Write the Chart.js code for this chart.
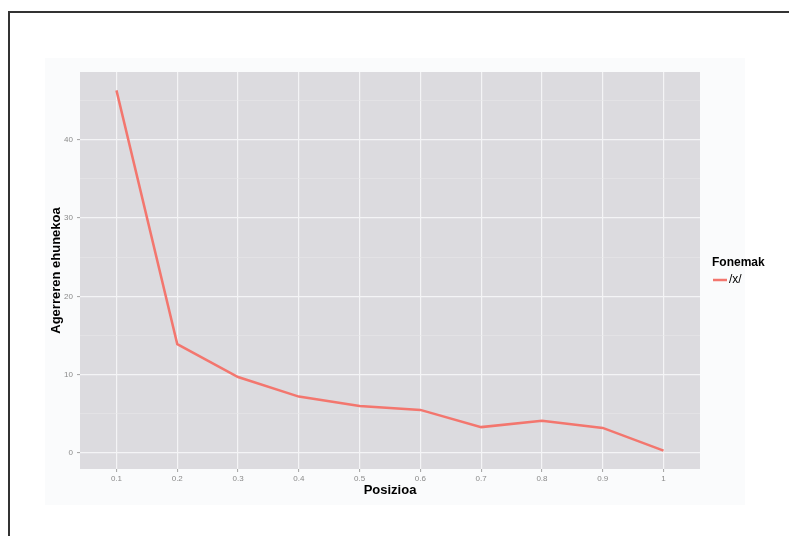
<!DOCTYPE html>
<html>
<head>
<meta charset="utf-8">
<script src="https://cdn.jsdelivr.net/npm/chart.js@4.4.1/dist/chart.umd.min.js"></script>
<style>
  html, body { margin: 0; padding: 0; background: #ffffff; }
  #wrap { position: relative; width: 789px; height: 536px; }
</style>
</head>
<body>
<div id="wrap"><canvas id="chart" width="789" height="536"></canvas></div>
<script>
// Datuak
const posizioak = [0.1, 0.2, 0.3, 0.4, 0.5, 0.6, 0.7, 0.8, 0.9, 1.0];
const ehunekoa = [46.3, 13.9, 9.7, 7.2, 6.0, 5.5, 3.3, 4.1, 3.2, 0.3];
const yTicks = [0, 5, 10, 15, 20, 25, 30, 35, 40, 45];
const yLabels = [0, 10, 20, 30, 40];
const seriesLabel = '/x/';
const legendTitle = 'Fonemak';

const LINE = '#F3766E';
const PANEL = '#DCDBDF';
const TICKTXT = '#8a8a8a';

// fondoa, markoa eta panela
const backdrop = {
    id: 'backdrop',
    beforeDraw(chart) {
        const { ctx, chartArea: a } = chart;
        ctx.save();
        ctx.fillStyle = '#ffffff';
        ctx.fillRect(0, 0, chart.width, chart.height);
        ctx.fillStyle = '#fafbfc';
        ctx.fillRect(45, 58, 700, 447);
        ctx.fillStyle = PANEL;
        ctx.fillRect(a.left, a.top, a.right - a.left, a.bottom - a.top);
        ctx.strokeStyle = '#333333';
        ctx.lineWidth = 2;
        ctx.beginPath();
        ctx.moveTo(9, chart.height);
        ctx.lineTo(9, 12);
        ctx.lineTo(chart.width, 12);
        ctx.stroke();
        ctx.restore();
    }
};

// legenda eskuinean
const sideLegend = {
    id: 'sideLegend',
    afterDraw(chart) {
        const { ctx } = chart;
        const ds = chart.data.datasets[0];
        ctx.save();
        ctx.fillStyle = '#000000';
        ctx.font = 'bold 12px "Liberation Sans", Arial, sans-serif';
        ctx.textBaseline = 'middle';
        ctx.fillText(legendTitle, 712, 263);
        ctx.strokeStyle = ds.borderColor;
        ctx.lineWidth = 2.5;
        ctx.beginPath();
        ctx.moveTo(713, 280);
        ctx.lineTo(727, 280);
        ctx.stroke();
        ctx.font = '12px "Liberation Sans", Arial, sans-serif';
        ctx.fillText(ds.label, 729, 280);
        ctx.restore();
    }
};

new Chart(document.getElementById('chart').getContext('2d'), {
    type: 'line',
    data: {
        datasets: [{
            label: seriesLabel,
            data: posizioak.map((p, i) => ({ x: p, y: ehunekoa[i] })),
            borderColor: LINE,
            borderWidth: 2.5,
            pointRadius: 0,
            tension: 0,
            fill: false
        }]
    },
    options: {
        responsive: false,
        animation: false,
        layout: { padding: { left: 49, right: 89, top: 72, bottom: 38 } },
        plugins: {
            legend: { display: false },
            tooltip: { enabled: false }
        },
        scales: {
            x: {
                type: 'linear',
                min: 0.04,
                max: 1.06,
                afterBuildTicks: (axis) => { axis.ticks = posizioak.map(v => ({ value: v })); },
                afterFit: (axis) => { axis.height = 29; },
                border: { display: false },
                grid: {
                    color: '#f4f4f6',
                    lineWidth: 1.2,
                    tickColor: '#8a8a8a',
                    tickLength: 3,
                    tickWidth: 0.8
                },
                ticks: {
                    color: TICKTXT,
                    font: { family: '"Liberation Sans", Arial, sans-serif', size: 8 },
                    padding: 2,
                    maxRotation: 0,
                    callback: (v) => String(Math.round(v * 10) / 10)
                },
                title: {
                    display: true,
                    text: 'Posizioa',
                    color: '#000000',
                    font: { family: '"Liberation Sans", Arial, sans-serif', size: 13, weight: 'bold' },
                    padding: { top: 1, bottom: 0 }
                }
            },
            y: {
                min: -2.05,
                max: 48.65,
                afterBuildTicks: (axis) => { axis.ticks = yTicks.map(v => ({ value: v })); },
                afterFit: (axis) => { axis.width = 31; },
                border: { display: false },
                grid: {
                    color: (c) => yLabels.includes(c.tick && c.tick.value) ? '#f4f4f6' : '#e8e8ea',
                    lineWidth: (c) => yLabels.includes(c.tick && c.tick.value) ? 1.2 : 0.6,
                    tickColor: (c) => yLabels.includes(c.tick && c.tick.value) ? '#8a8a8a' : 'rgba(0,0,0,0)',
                    tickLength: 3,
                    tickWidth: 0.8
                },
                ticks: {
                    color: TICKTXT,
                    font: { family: '"Liberation Sans", Arial, sans-serif', size: 8 },
                    padding: 4,
                    callback: (v) => yLabels.includes(v) ? String(v) : ''
                },
                title: {
                    display: true,
                    text: 'Agerreren ehunekoa',
                    color: '#000000',
                    font: { family: '"Liberation Sans", Arial, sans-serif', size: 13, weight: 'bold' },
                    padding: { top: 0, bottom: 2 }
                }
            }
        }
    },
    plugins: [backdrop, sideLegend]
});
</script>
</body>
</html>
